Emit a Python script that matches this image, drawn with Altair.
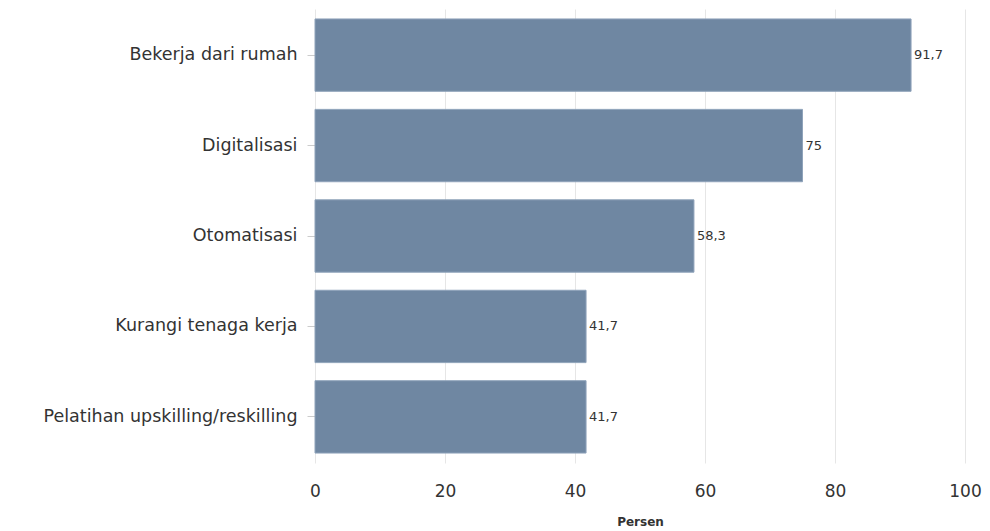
import altair as alt
import pandas as pd

categories = ["Bekerja dari rumah", "Digitalisasi", "Otomatisasi", "Kurangi tenaga kerja", "Pelatihan upskilling/reskilling"]
values = [91.7, 75, 58.3, 41.7, 41.7]
value_labels = ["91,7", "75", "58,3", "41,7", "41,7"]

df = pd.DataFrame({"cat": categories, "val": values, "lab": value_labels})

FONT = "DejaVu Sans"

y_enc = alt.Y("cat:N", sort=categories, title=None,
              scale=alt.Scale(paddingInner=0.2, paddingOuter=0.11),
              axis=alt.Axis(labelFont=FONT, labelFontSize=17.5, labelColor="#333333",
                            tickSize=8, tickColor="#cccccc", labelPadding=10,
                            domain=False, grid=False, labelLimit=400))

x_enc = alt.X("val:Q", title="Persen",
              scale=alt.Scale(domain=[0, 100], nice=False),
              axis=alt.Axis(values=[0, 20, 40, 60, 80, 100], labelFont=FONT, labelFontSize=17,
                            labelColor="#333333", ticks=False, domain=False, labelFlush=False,
                            labelPadding=20, gridColor="#e6e6e6", gridWidth=1,
                            titleFont=FONT, titleFontSize=12, titleFontWeight="bold",
                            titleColor="#333333", titlePadding=17))

bars = alt.Chart(df).mark_bar(color="#6f87a2", stroke="#8fa3ba", strokeWidth=1).encode(x=x_enc, y=y_enc)

text = alt.Chart(df).mark_text(align="left", baseline="middle", dx=3, font=FONT,
                               fontSize=13, color="#333333").encode(
    x=alt.X("val:Q"), y=alt.Y("cat:N", sort=categories), text="lab:N")

chart = (bars + text).properties(
    width=650, height=454,
    autosize=alt.AutoSizeParams(type="none"),
    padding={"left": 307, "top": 1, "right": 17, "bottom": 67},
).configure_view(stroke=None)

chart.save("out.html", embed_options={"renderer": "svg", "actions": False})
